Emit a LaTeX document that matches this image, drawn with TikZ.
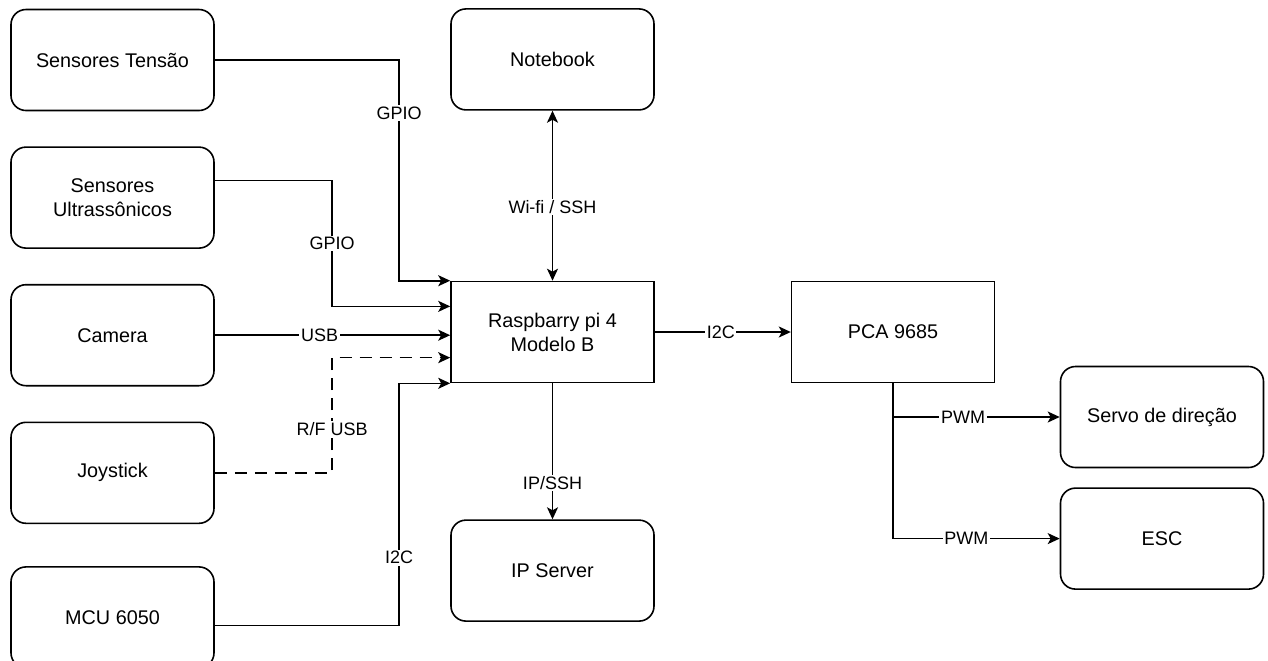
\documentclass[tikz,border=0pt]{standalone}
\usepackage{fontspec}
\setmainfont{Liberation Sans}
\usetikzlibrary{arrows.meta, positioning, calc}

\begin{document}
\begin{tikzpicture}[
  x=0.5pt, y=-0.5pt,
  box/.style={
    rectangle, draw=black, line width=0.8pt,
    minimum width=101.5pt, minimum height=50.5pt,
    font=\fontsize{9.9}{12}\selectfont, align=center,
  },
  roundbox/.style={box, rounded corners=7.5pt},
  arrow/.style={-{Stealth[length=6pt, width=5.5pt, inset=1.5pt]}, line width=0.8pt},
  biarrow/.style={{Stealth[length=6pt, width=5.5pt, inset=1.5pt]}-{Stealth[length=6pt, width=5.5pt, inset=1.5pt]}, line width=0.8pt},
  lbl/.style={font=\fontsize{9}{11}\selectfont, fill=white, inner sep=0.8pt},
]
\useasboundingbox (0,0) rectangle (1268,660);

% Central blocks
\node[box] (rasp) at (552.5,332) {Raspbarry pi 4\\Modelo B};
\node[roundbox, above=85pt of rasp] (notebook) {Notebook};
\node[roundbox, below=68pt of rasp] (ipserver) {IP Server};
\node[box, right=68pt of rasp] (pca) {PCA 9685};

% Inputs
\node[roundbox] (tension) at (112.5,60) {Sensores Tensão};
\node[roundbox, below=17.5pt of tension] (ultra) {Sensores\\Ultrassônicos};
\node[roundbox, below=17.5pt of ultra] (camera) {Camera};
\node[roundbox, below=17.5pt of camera] (joystick) {Joystick};
\node[roundbox, below=21pt of joystick] (mcu) {MCU 6050};

% Actuators
\node[roundbox] (servo) at (1162,417) {Servo de direção};
\node[roundbox, below=9.5pt of servo] (esc) {ESC};

% Arrows -- inputs to raspberry
\draw[arrow] (tension.east) -| node[lbl, pos=0.62] {GPIO} ([xshift=-25.5pt]rasp.north west) -- (rasp.north west);
\draw[arrow] ([yshift=8.5pt]ultra.east) -| node[lbl, pos=0.75] {GPIO} ($(rasp.north west)!0.25!(rasp.south west)+(-118,0)$) -- ($(rasp.north west)!0.25!(rasp.south west)$);
\draw[arrow] (camera.east) -- node[lbl, pos=0.445] {USB} (camera.east -| rasp.west);
\draw[arrow, dashed, dash pattern=on 6pt off 4pt] (joystick.east) -| node[lbl, pos=0.69] {R/F USB} ($(rasp.north west)!0.75!(rasp.south west)+(-118,0)$) -- ($(rasp.north west)!0.75!(rasp.south west)$);
\draw[arrow] ([yshift=-4pt]mcu.east) -| node[lbl, pos=0.64] {I2C} ([xshift=-25.5pt]rasp.south west) -- (rasp.south west);

% Arrows -- network
\draw[biarrow] (notebook.south) -- node[lbl, pos=0.565] {Wi-fi / SSH} (rasp.north);
\draw[arrow] (rasp.south) -- node[lbl, pos=0.735] {IP/SSH} (ipserver.north);

% Arrows -- outputs
\draw[arrow] (rasp.east) -- node[lbl, pos=0.485] {I2C} (pca.west);
\draw[arrow] (pca.south) |- node[lbl, pos=0.71] {PWM} (servo.west);
\draw[arrow] (pca.south) |- node[lbl, pos=0.72] {PWM} (esc.west);

\end{tikzpicture}
\end{document}
